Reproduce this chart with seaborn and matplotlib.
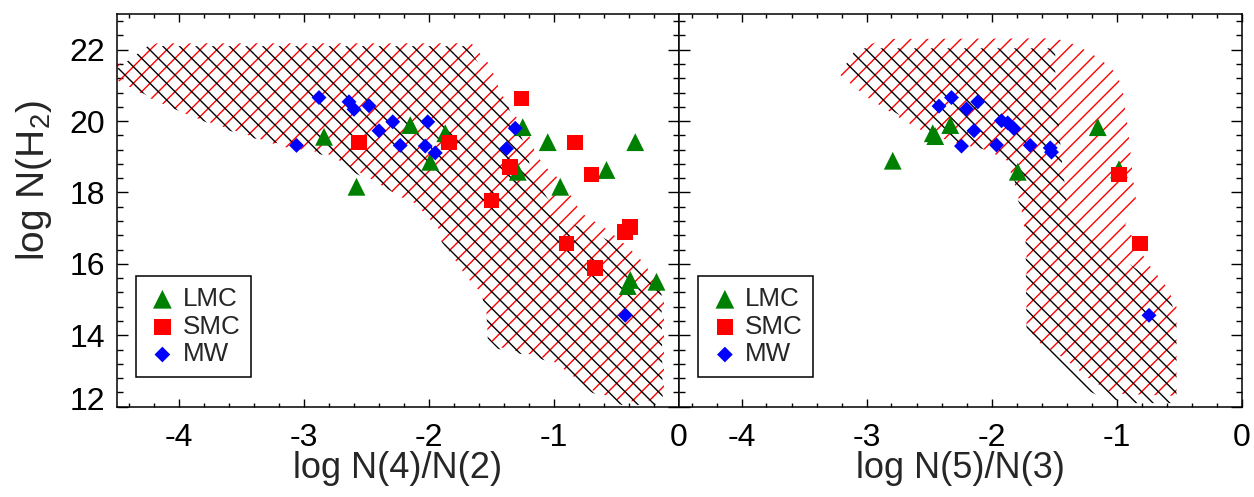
import matplotlib
matplotlib.use("Agg")
import matplotlib.pyplot as plt
from matplotlib.ticker import MultipleLocator
from matplotlib.transforms import ScaledTranslation
import seaborn as sns

# ---------------- data: left panel (log N(4)/N(2)) ----------------
left_lmc_x = [-2.84, -2.58, -2.15, -1.87, -1.99, -1.25, -1.29, -1.05, -0.95, -0.58, -0.35, -0.39, -0.41, -0.18]
left_lmc_y = [19.56, 18.16, 19.89, 19.66, 18.86, 19.83, 18.58, 19.41, 18.16, 18.63, 19.41, 15.55, 15.38, 15.50]
left_smc_x = [-2.56, -1.84, -1.26, -0.83, -1.35, -0.70, -1.50, -0.39, -0.43, -0.90, -0.67]
left_smc_y = [19.40, 19.40, 20.63, 19.40, 18.72, 18.50, 17.77, 17.04, 16.89, 16.57, 15.89]
left_mw_x = [-2.88, -2.64, -2.60, -2.48, -2.29, -2.40, -3.06, -2.23, -2.01, -2.03, -1.95, -1.31, -1.38, -0.43]
left_mw_y = [20.66, 20.54, 20.33, 20.43, 19.98, 19.73, 19.32, 19.32, 19.98, 19.30, 19.11, 19.80, 19.23, 14.56]

# ---------------- data: right panel (log N(5)/N(3)) ----------------
right_lmc_x = [-2.79, -2.47, -2.45, -2.33, -1.79, -1.15, -0.98]
right_lmc_y = [18.89, 19.66, 19.58, 19.89, 18.58, 19.83, 18.65]
right_smc_x = [-0.98, -0.81]
right_smc_y = [18.50, 16.57]
right_mw_x = [-2.42, -2.32, -2.20, -2.11, -1.92, -1.87, -1.82, -2.14, -2.24, -1.96, -1.69, -1.53, -1.52, -0.74]
right_mw_y = [20.42, 20.66, 20.34, 20.54, 20.01, 19.95, 19.79, 19.73, 19.30, 19.33, 19.32, 19.25, 19.13, 14.56]

# ---------------- hatched model regions ----------------
left_red_x = [-4.50, -4.18, -1.66, -1.57, -1.50, -1.47, -1.42, -1.35, -1.25, -1.18, -1.15, -1.07, -0.95,
              -0.86, -0.78, -0.57, -0.41, -0.29, -0.17, -0.12, -0.12, -0.46, -0.70, -1.02, -1.23, -1.45,
              -1.53, -1.54, -1.58, -1.70, -1.90, -1.90, -2.11, -2.23, -2.45, -2.63, -2.82, -3.17, -3.49,
              -3.89, -4.23, -4.47, -4.50]
left_red_y = [21.55, 22.18, 22.18, 21.80, 21.52, 21.15, 20.78, 20.31, 19.90, 19.47, 19.10, 18.72, 18.35,
              17.88, 17.42, 16.95, 16.48, 16.06, 15.46, 14.99, 12.19, 12.14, 12.47, 13.31, 13.50, 13.68,
              13.96, 14.62, 15.18, 15.64, 16.67, 16.90, 17.70, 17.88, 18.35, 18.72, 19.10, 19.28, 19.66,
              20.12, 20.64, 21.10, 21.15]
left_blk_x = [-4.50, -4.25, -1.70, -1.62, -1.50, -1.38, -1.30, -1.22, -1.18, -0.94, -0.67, -0.43, -0.25,
              -0.14, -0.13, -0.46, -0.70, -1.02, -1.23, -1.45, -1.53, -1.54, -1.58, -1.70, -1.90, -1.90,
              -2.11, -2.29, -2.59, -2.75, -3.10, -3.46, -3.83, -4.11, -4.29, -4.50]
left_blk_y = [21.45, 22.10, 22.10, 21.70, 21.10, 20.50, 19.90, 19.20, 18.54, 17.23, 16.86, 16.39, 15.92,
              15.18, 12.05, 12.05, 12.40, 13.25, 13.45, 13.62, 13.90, 14.60, 15.15, 15.60, 16.62, 16.88,
              17.70, 18.02, 18.54, 18.95, 19.30, 19.56, 20.03, 20.45, 20.78, 21.20]
right_red_x = [-3.21, -3.18, -3.05, -2.85, -1.49, -1.32, -1.16, -1.05, -0.99, -0.95, -0.93, -0.91, -0.89,
               -0.87, -0.84, -0.93, -0.75, -0.60, -0.52, -0.52, -1.03, -1.24, -1.40, -1.61, -1.72, -1.72,
               -1.76, -1.80, -1.88, -2.04, -2.28, -2.52, -2.73, -3.00, -3.21]
right_red_y = [21.34, 21.71, 22.05, 22.30, 22.32, 22.13, 21.80, 21.52, 21.24, 20.87, 20.31, 19.84, 19.19,
               18.44, 17.70, 17.10, 16.02, 15.36, 14.80, 12.30, 12.37, 12.84, 13.31, 13.78, 14.24, 16.58,
               17.51, 18.07, 18.91, 19.19, 19.38, 19.66, 20.08, 20.68, 21.29]
right_blk_x = [-3.16, -3.08, -1.49, -1.49, -1.47, -1.45, -1.43, -1.40, -1.40, -1.13, -0.81, -0.57, -0.52,
               -0.52, -0.89, -1.13, -1.24, -1.43, -1.63, -1.72, -1.72, -1.73, -1.79, -1.79, -1.85, -2.04,
               -2.25, -2.47, -2.65, -2.91, -3.16]
right_blk_y = [21.62, 22.04, 22.04, 21.24, 20.31, 19.38, 18.63, 17.88, 17.51, 16.58, 15.78, 14.99, 14.52,
               12.10, 12.10, 12.28, 12.47, 13.12, 13.54, 13.87, 14.06, 17.32, 17.79, 18.02, 18.72, 19.19,
               19.38, 19.61, 19.98, 20.54, 21.50]

x_ticks = [-4, -3, -2, -1, 0]
y_ticks = [12, 14, 16, 18, 20, 22]
groups = ["LMC", "SMC", "MW"]
xlabels = ["log N(4)/N(2)", "log N(5)/N(3)"]
ylabel = "log N(H$_2$)"

# ---------------- style ----------------
sns.set_style("white")
plt.rcParams["font.family"] = ["Liberation Sans", "DejaVu Sans"]
plt.rcParams["axes.unicode_minus"] = False
plt.rcParams["mathtext.default"] = "regular"
plt.rcParams["hatch.linewidth"] = 1.0

W, H = 1254, 497
fig = plt.figure(figsize=(W / 100, H / 100), dpi=100)
ax_w, ax_h = 562.5 / W, 392.7 / H
ax_b = (H - 406.7) / H
axL = fig.add_axes([116.5 / W, ax_b, ax_w, ax_h])
axR = fig.add_axes([679.0 / W, ax_b, ax_w, ax_h])

markers = {"LMC": "^", "SMC": "s", "MW": "D"}
colors = {"LMC": "#008000", "SMC": "#ff0000", "MW": "#0000ff"}
sizes = {"LMC": 165, "SMC": 125, "MW": 58}


def panel(ax, red_x, red_y, blk_x, blk_y, pts, xlabel, show_y):
    ax.fill(red_x, red_y, facecolor="none", edgecolor="#ff0000", hatch="//", linewidth=0, zorder=1)
    ax.fill(blk_x, blk_y, facecolor="none", edgecolor="black", hatch="\\\\", linewidth=0, zorder=1.1)
    for g in groups:
        xs, ys = pts[g]
        sns.scatterplot(x=xs, y=ys, marker=markers[g], color=colors[g], s=sizes[g],
                        linewidth=0, edgecolor="none", label=g, ax=ax, zorder=3)
    ax.set_xlim(-4.5, 0)
    ax.set_ylim(12, 23)
    ax.set_xticks(x_ticks)
    ax.set_yticks(y_ticks)
    ax.xaxis.set_minor_locator(MultipleLocator(0.2))
    ax.yaxis.set_minor_locator(MultipleLocator(0.4))
    ax.tick_params(axis="both", which="both", direction="in", top=True, bottom=True,
                   left=True, right=True, colors="black", width=1.0)
    ax.tick_params(axis="x", which="major", length=6, pad=12, labelsize=23)
    ax.tick_params(axis="x", which="minor", length=3.2)
    ax.tick_params(axis="y", which="major", length=7.7, pad=8, labelsize=23)
    ax.tick_params(axis="y", which="minor", length=4.1)
    if not show_y:
        ax.tick_params(axis="y", labelleft=False)
    for sp in ax.spines.values():
        sp.set_color("black")
        sp.set_linewidth(1.1)
    ax.set_xlabel(xlabel, fontsize=26)
    ax.xaxis.label.set_va("center")
    ax.xaxis.set_label_coords(0.5, (406.7 - 468) / 392.7)
    if show_y:
        ax.set_ylabel(ylabel, fontsize=28)
        ax.yaxis.label.set_va("center")
        ax.yaxis.set_label_coords(-(116.5 - 34) / 562.5, (406.7 - 181) / 392.7)
        # the bottom "12" label sits slightly above the x axis line
        lab = ax.yaxis.get_major_ticks()[0].label1
        lab.set_transform(lab.get_transform() + ScaledTranslation(0, 0.08, fig.dpi_scale_trans))
    else:
        ax.set_ylabel("")
    leg = ax.legend(loc="lower left", bbox_to_anchor=(19 / 562.5, (406.7 - 377) / 392.7),
                    borderaxespad=0, fontsize=18.7, frameon=True, fancybox=False,
                    borderpad=0.41, labelspacing=0.14, handlelength=1.25, handletextpad=0.15,
                    markerscale=1.05)
    leg.get_frame().set_edgecolor("black")
    leg.get_frame().set_linewidth(1.1)
    leg.get_frame().set_alpha(1)


panel(axL, left_red_x, left_red_y, left_blk_x, left_blk_y,
      {"LMC": (left_lmc_x, left_lmc_y), "SMC": (left_smc_x, left_smc_y), "MW": (left_mw_x, left_mw_y)},
      xlabels[0], True)
panel(axR, right_red_x, right_red_y, right_blk_x, right_blk_y,
      {"LMC": (right_lmc_x, right_lmc_y), "SMC": (right_smc_x, right_smc_y), "MW": (right_mw_x, right_mw_y)},
      xlabels[1], False)

fig.savefig("out.png", dpi=100, facecolor="white")
